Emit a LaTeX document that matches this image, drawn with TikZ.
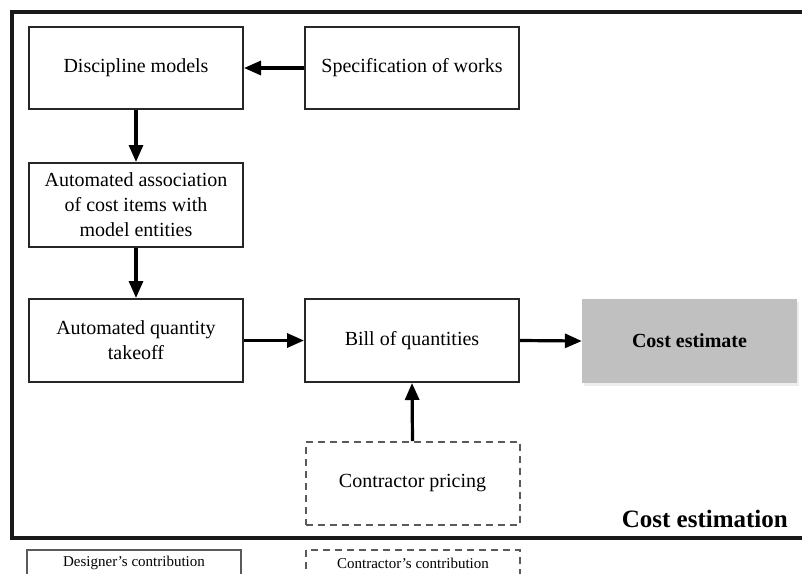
\documentclass[tikz,border=0pt]{standalone}
\usepackage{fontspec}
\setmainfont{Liberation Serif}
\usetikzlibrary{arrows.meta}
\definecolor{boxgray}{HTML}{C0C0C0}
\definecolor{dashgray}{HTML}{5A5A5A}
\tikzset{
  stepbox/.style={draw=black!85, line width=2pt, fill=white, minimum width=214pt,
    minimum height=83pt, align=center, inner sep=2pt,
    font=\fontsize{20}{25}\selectfont},
  dashbox/.style={stepbox, draw=dashgray, dash pattern=on 7pt off 5pt},
  resultbox/.style={fill=boxgray, minimum width=215pt, minimum height=84pt,
    align=center, font=\fontsize{20}{25}\selectfont\bfseries},
  flow/.style={line width=3.2pt, -{Triangle[length=17pt,width=14pt]}},
  legendtext/.style={font=\fontsize{15}{18}\selectfont, inner sep=0pt},
}
\begin{document}
\begin{tikzpicture}[x=1pt,y=-1pt]
\useasboundingbox (0,0) rectangle (802,573);
\clip (0,0) rectangle (802,573);
% outer frame
\draw[line width=3.6pt, black!90] (12,12) rectangle (806,538);
% nodes
\node[stepbox, minimum height=82pt] (disc) at (136,68) {Discipline models};
\node[stepbox, minimum height=82pt] (spec) at (412,68) {Specification of works};
\node[stepbox, minimum height=84pt] (assoc) at (136,205) {Automated association\\of cost items with\\model entities};
\node[stepbox] (take) at (136,340.5) {Automated quantity\\takeoff};
\node[stepbox] (bill) at (412,340.5) {Bill of quantities};
\fill[black!7] (584,302) rectangle (799,386);
\node[resultbox] (cost) at (689.5,341) {Cost estimate};
\node[dashbox] (contr) at (412.5,483.5) {Contractor pricing};
\node[font=\fontsize{25}{30}\selectfont\bfseries, anchor=base east, inner sep=0pt] (title) at (788,527) {Cost estimation};
% connectors
\draw[flow] (spec.west) -- (disc.east);
\draw[flow] (disc.south) -- (assoc.north);
\draw[flow] (assoc.south) -- (take.north);
\draw[flow] (take.east) -- (bill.west);
\draw[flow] (bill.east) -- (cost.west);
\draw[flow] (contr.north) -- (bill.south);
% legend
\draw[draw=dashgray, line width=1.8pt] (27,550) rectangle (241,600);
\node[legendtext] (leg1) at (134,563) {Designer’s contribution};
\draw[draw=dashgray, line width=1.8pt, dash pattern=on 7pt off 5pt] (306,550) rectangle (520,600);
\node[legendtext] (leg2) at (413,563) {Contractor’s contribution};
\end{tikzpicture}
\end{document}
